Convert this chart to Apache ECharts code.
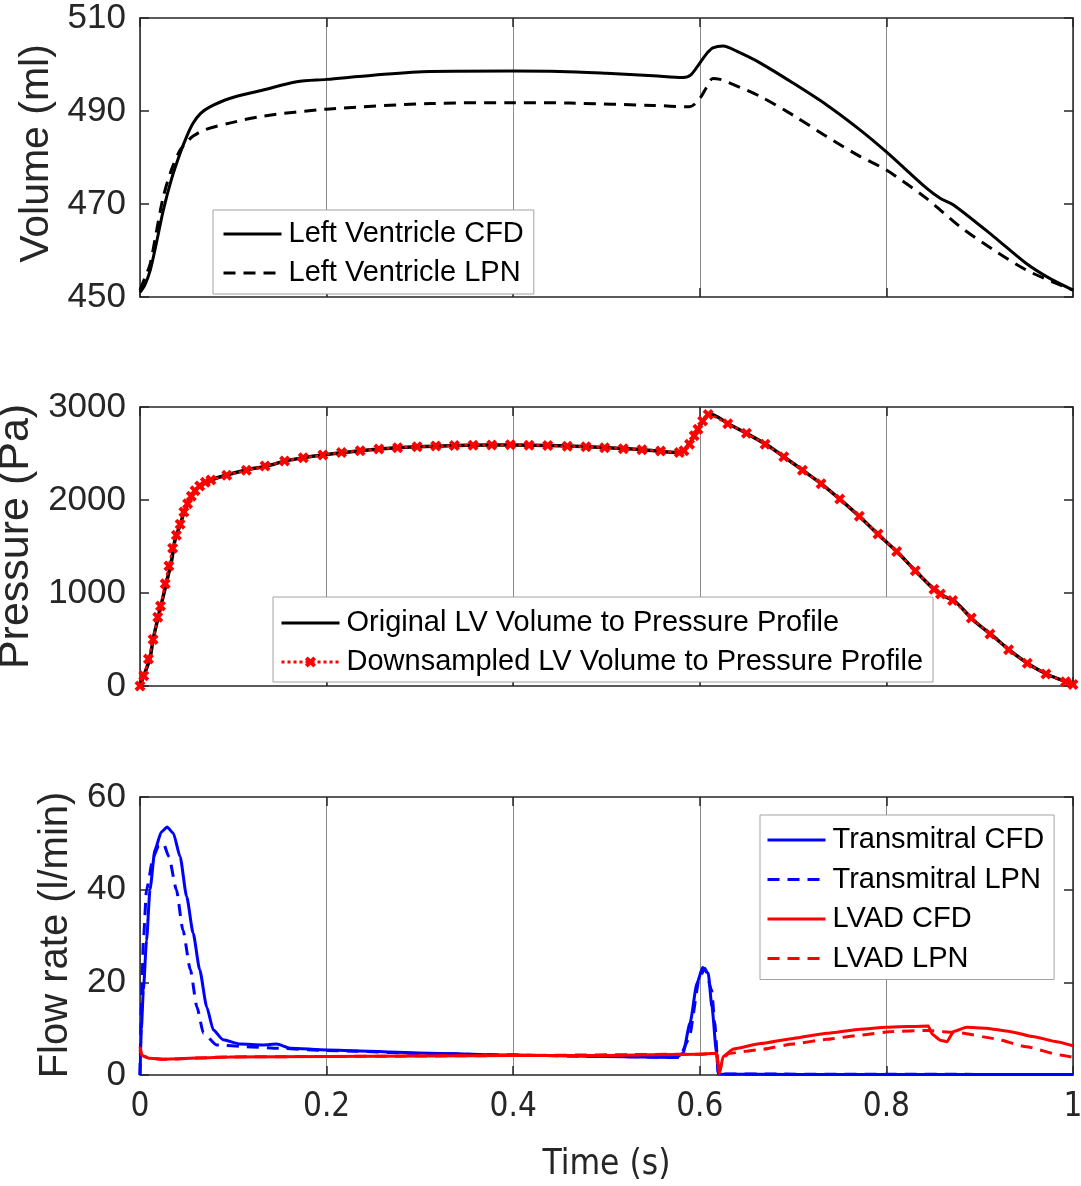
<!DOCTYPE html>
<html><head><meta charset="utf-8">
<script src="https://cdn.jsdelivr.net/npm/echarts@6/dist/echarts.min.js"></script>
<style>html,body{margin:0;padding:0;background:#fff}#c{width:1081px;height:1186px}</style>
</head><body><div id="c"></div><script>
// ---- Data ----
const xTicks = [0, 0.2, 0.4, 0.6, 0.8, 1];

// Panel 1: Volume (ml)
const tVolCFD = [0,0.005,0.011,0.018,0.025,0.034,0.043,0.05,0.057,0.065,0.075,0.096,0.132,0.168,0.2,0.25,0.311,0.4,0.45,0.5,0.55,0.582,0.59,0.6,0.608,0.614,0.625,0.64,0.665,0.7,0.736,0.772,0.8,0.843,0.858,0.872,0.915,0.95,0.975,1.0];
const volCFD  = [451,452.5,455.8,462,468.7,475.5,480.9,484.5,487.4,489.5,490.9,492.7,494.5,496.3,496.8,497.7,498.5,498.6,498.5,498.1,497.6,497.2,497.7,500.3,502.5,503.6,504.0,502.8,500.3,496.0,491.3,485.9,481.2,473.4,471.2,469.8,463.0,457.2,454.0,451.5];
const tVolLPN = [0,0.005,0.011,0.018,0.025,0.034,0.043,0.05,0.057,0.07,0.096,0.132,0.2,0.311,0.4,0.461,0.55,0.589,0.6,0.607,0.614,0.622,0.629,0.665,0.7,0.736,0.772,0.8,0.843,0.879,0.915,0.95,0.986,1.0];
const volLPN  = [451.5,454,457.2,464.5,471.6,477.5,481.6,483.3,484.6,486.0,487.4,488.9,490.4,491.6,491.8,491.7,491.2,490.9,492.7,495,497.0,496.8,496.3,493.1,489.1,484.5,480.2,477.3,471.2,465.1,460.1,455.8,452.6,451.5];

// Panel 2: Pressure (Pa)
const tPresOrig = [0,0.005,0.0107,0.0143,0.0214,0.0286,0.034,0.0375,0.043,0.048,0.054,0.061,0.0715,0.093,0.114,0.136,0.157,0.175,0.196,0.236,0.275,0.297,0.35,0.4,0.45,0.497,0.539,0.579,0.589,0.597,0.604,0.611,0.631,0.65,0.672,0.691,0.711,0.732,0.752,0.772,0.793,0.813,0.832,0.852,0.863,0.874,0.893,0.915,0.934,0.954,0.974,0.997,1.0];
const presOrig  = [0,136,297,513,817,1122,1355,1570,1731,1892,2018,2125,2197,2269,2323,2366,2423,2455,2484,2530,2562,2573,2588,2592,2583,2565,2540,2509,2609,2735,2860,2925,2817,2717,2591,2459,2315,2161,1993,1814,1613,1427,1229,1032,960,906,710,530,369,226,118,29,10];
const tPresDown = [0,0.004,0.009,0.014,0.019,0.022,0.027,0.031,0.035,0.039,0.043,0.047,0.051,0.055,0.059,0.064,0.070,0.076,0.093,0.114,0.134,0.155,0.175,0.196,0.216,0.236,0.256,0.276,0.297,0.317,0.337,0.357,0.377,0.397,0.417,0.437,0.458,0.478,0.498,0.518,0.538,0.558,0.578,0.583,0.589,0.594,0.598,0.603,0.609,0.630,0.650,0.670,0.690,0.710,0.730,0.750,0.771,0.791,0.811,0.831,0.851,0.858,0.871,0.891,0.911,0.931,0.951,0.971,0.992,1.0];
const presDown  = [0,110,290,500,740,860,1100,1290,1480,1620,1740,1870,1960,2040,2100,2150,2190,2215,2265,2320,2365,2420,2455,2485,2510,2530,2548,2562,2573,2580,2585,2590,2592,2593,2590,2585,2578,2572,2562,2552,2540,2528,2510,2530,2600,2690,2760,2850,2920,2820,2717,2600,2465,2320,2175,2010,1825,1635,1445,1240,1040,990,920,730,560,390,245,130,45,15];

// Panel 3: Flow rate (l/min)
const tMitCFD = [0,0.0015,0.0036,0.007,0.0107,0.016,0.023,0.029,0.0357,0.043,0.05,0.057,0.064,0.0715,0.0786,0.089,0.107,0.132,0.1465,0.161,0.2,0.311,0.4,0.5,0.575,0.582,0.5895,0.597,0.603,0.609,0.613,0.618,0.62,0.7,1.0];
const mitCFD  = [0,10,18.3,29,40,48.6,52.5,53.5,52.2,47.1,38.5,30.6,22.7,14.7,9.7,7.6,6.7,6.5,6.7,5.8,5.4,4.7,4.3,4.0,3.8,4.7,11.2,19.8,23.2,22,14.7,4.7,0.2,0.1,0.1];
const tMitLPN = [0,0.0015,0.0036,0.007,0.0143,0.02,0.025,0.031,0.039,0.046,0.054,0.061,0.068,0.082,0.114,0.143,0.2,0.311,0.4,0.5,0.578,0.588,0.6,0.6056,0.6127,0.616,0.62,1.0];
const mitLPN  = [0,15,29,40,47.1,49.5,50,47.1,40,31.3,22.7,14.7,9,6.5,6.1,5.8,5.3,4.6,4.3,4.0,3.8,7.6,21.2,23,18.3,11.2,0.2,0.1];
const tVadCFD = [0,0.002,0.01,0.025,0.096,0.2,0.3,0.4,0.5,0.6,0.618,0.621,0.625,0.636,0.665,0.7,0.736,0.772,0.8,0.845,0.849,0.858,0.865,0.872,0.886,0.907,0.932,0.957,0.9825,1.0];
const vadCFD  = [6.1,4.2,3.6,3.4,3.9,4.0,4.1,4.2,4.2,4.5,4.7,0.4,4.0,5.6,6.8,7.9,9.0,9.9,10.3,10.6,8.8,7.5,7.2,9.4,10.3,10.1,9.4,8.3,7.2,6.3];
const tVadLPN = [0,0.002,0.01,0.025,0.096,0.2,0.4,0.6,0.618,0.621,0.625,0.632,0.665,0.7,0.736,0.772,0.807,0.843,0.879,0.915,0.95,0.986,1.0];
const vadLPN  = [5.5,4.2,3.6,3.4,3.9,4.0,4.2,4.5,4.7,0.4,3.8,4.7,5.5,6.7,7.7,8.6,9.4,9.6,9.1,7.9,6.1,4.3,3.8];

// ---- Build ----
const zip = (t, v) => t.map((x, i) => [x, v[i]]);
const TXT = '#262626';
const FONT = "'Liberation Sans', Arial, Helvetica, sans-serif";
const NARROW = "'Liberation Sans Narrow', 'DejaVu Sans Condensed', 'Liberation Sans', sans-serif";
const crossPath = 'path://M0 2.5 L2.5 0 L5 2.5 L7.5 0 L10 2.5 L7.5 5 L10 7.5 L7.5 10 L5 7.5 L2.5 10 L0 7.5 L2.5 5 Z';

const grids = [
  {left:140, top:18, width:933, height:279, outerBoundsMode:'none', containLabel:false},
  {left:140, top:407, width:933, height:279, outerBoundsMode:'none', containLabel:false},
  {left:140, top:797, width:933, height:278, outerBoundsMode:'none', containLabel:false}
];
const yCfg = [
  {min:450, max:510, interval:20, name:'Volume (ml)', gap:77, size:41, pad:[0,0,0,8]},
  {min:0, max:3000, interval:1000, name:'Pressure (Pa)', gap:93, size:43, pad:[0,0,0,20]},
  {min:0, max:60, interval:20, name:'Flow rate (l/min)', gap:52, size:40, pad:[0,0,0,2]}
];
const tick = {show:true, inside:true, length:9, lineStyle:{color:TXT, width:1.5}};
const line = {show:true, onZero:false, lineStyle:{color:TXT, width:1.5}};

const xAxis = [], yAxis = [];
grids.forEach((g, i) => {
  const last = i === 2;
  xAxis.push({
    type:'value', gridIndex:i, min:0, max:1, interval:0.2, position:'bottom',
    axisLine:line, axisTick:tick,
    splitLine:{show:true, lineStyle:{color:'#8a8a8a', width:1}},
    axisLabel:{show:last, color:TXT, fontSize:33, fontFamily:NARROW, margin:16, formatter:v => String(v)},
    name: last ? 'Time (s)' : '', nameLocation:'middle', nameGap:72,
    nameTextStyle:{color:TXT, fontSize:35, fontFamily:NARROW}
  });
  xAxis.push({
    type:'value', gridIndex:i, min:0, max:1, interval:0.2, position:'top',
    axisLine:line, axisTick:tick, splitLine:{show:false}, axisLabel:{show:false}
  });
  const c = yCfg[i];
  yAxis.push({
    type:'value', gridIndex:i, min:c.min, max:c.max, interval:c.interval, position:'left',
    axisLine:line, axisTick:tick, splitLine:{show:false},
    axisLabel:{color:TXT, fontSize:35, fontFamily:FONT, margin:14, formatter:v => String(v)},
    name:c.name, nameLocation:'middle', nameRotate:90, nameGap:c.gap,
    nameTextStyle:{color:TXT, fontSize:c.size, fontFamily:FONT, padding:c.pad}
  });
  yAxis.push({
    type:'value', gridIndex:i, min:c.min, max:c.max, interval:c.interval, position:'right',
    axisLine:line, axisTick:tick, splitLine:{show:false}, axisLabel:{show:false}
  });
});

function ser(name, data, panel, color, type, width, extra) {
  return Object.assign({
    name, type:'line', data, xAxisIndex:2*panel, yAxisIndex:2*panel,
    symbol:'none', smooth:0.3,
    lineStyle:{color, width, type}, itemStyle:{color},
    emphasis:{disabled:true}, animation:false
  }, extra || {});
}

const series = [
  ser('Left Ventricle CFD', zip(tVolCFD, volCFD), 0, '#000', 'solid', 3),
  ser('Left Ventricle LPN', zip(tVolLPN, volLPN), 0, '#000', [12,8], 3),
  ser('Original LV Volume to Pressure Profile', zip(tPresOrig, presOrig), 1, '#000', 'solid', 3.5),
  ser('Downsampled LV Volume to Pressure Profile', zip(tPresDown, presDown), 1, '#ff0000', [3,3], 2.5,
      {symbol:crossPath, symbolSize:11, showSymbol:true, smooth:0.2}),
  ser('Transmitral CFD', zip(tMitCFD, mitCFD), 2, '#0000ff', 'solid', 3, {smooth:0.2, smoothMonotone:'x'}),
  ser('Transmitral LPN', zip(tMitLPN, mitLPN), 2, '#0000ff', [12,8], 3, {smooth:0.2, smoothMonotone:'x'}),
  ser('LVAD CFD', zip(tVadCFD, vadCFD), 2, '#ff0000', 'solid', 3, {smooth:0.15, smoothMonotone:'x'}),
  ser('LVAD LPN', zip(tVadLPN, vadLPN), 2, '#ff0000', [12,8], 3, {smooth:0.15, smoothMonotone:'x'})
];

const legendBase = {
  orient:'vertical', itemWidth:58, itemHeight:14, itemGap:9,
  borderColor:'#a3a3a3', borderWidth:1, backgroundColor:'#ffffff', borderRadius:0,
  textStyle:{fontSize:29, color:'#000', fontFamily:FONT, lineHeight:30, padding:[0,0,0,2]},
  itemStyle:{opacity:0},
  lineStyle:{width:3},
  selectedMode:false
};
const legend = [
  Object.assign({}, legendBase, {left:213, top:210, padding:[9,10,6,9],
    data:['Left Ventricle CFD','Left Ventricle LPN']}),
  Object.assign({}, legendBase, {left:273, top:597, padding:[11,10,5,7],
    data:['Original LV Volume to Pressure Profile',
          {name:'Downsampled LV Volume to Pressure Profile', itemStyle:{opacity:1}}]}),
  Object.assign({}, legendBase, {left:760, top:815, padding:[10,10,6,6], itemGap:9.5,
    data:['Transmitral CFD','Transmitral LPN','LVAD CFD','LVAD LPN']})
];

const chart = echarts.init(document.getElementById('c'), null, {renderer:'canvas'});
chart.setOption({
  backgroundColor:'#ffffff', animation:false,
  grid:grids, xAxis, yAxis, legend, series
});
</script></body></html>
